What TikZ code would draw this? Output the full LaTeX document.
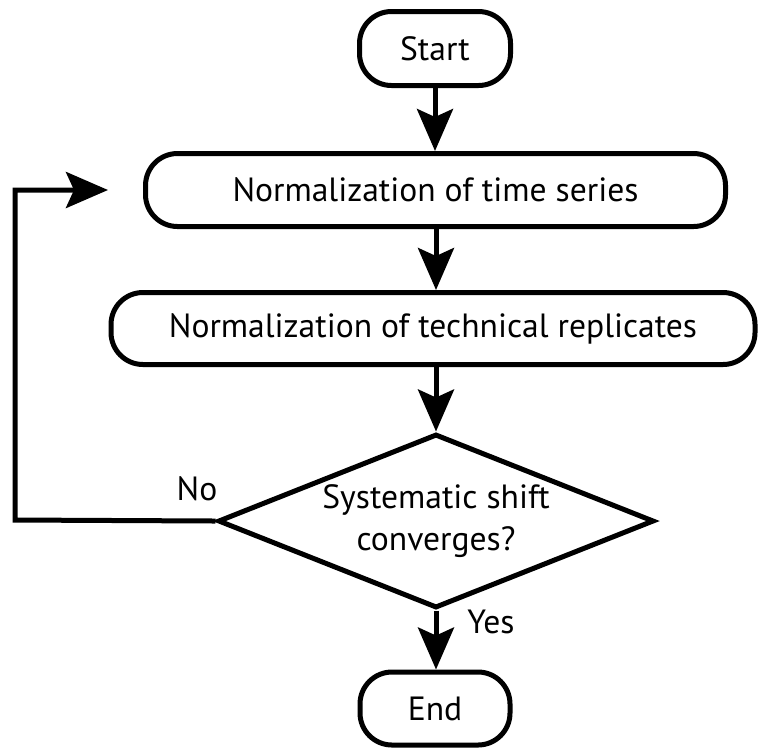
\documentclass[tikz,border=0pt]{standalone}
\usepackage{fontspec}
\setmainfont{PT Sans}
\usetikzlibrary{arrows.meta,shapes.geometric}

% size the text so the box label "Normalization of time series" is 203pt wide
\newlength\reflen
\AtBeginDocument{%
  \settowidth\reflen{\fontsize{10pt}{12pt}\selectfont Normalization of time series}%
  \pgfmathsetmacro\txtsize{10*203/\reflen}%
  \xdef\txtsize{\txtsize}%
}
\newcommand\lbl{\fontsize{\txtsize pt}{21pt}\selectfont}

\begin{document}
\begin{tikzpicture}[
    x=0.5pt, y=-0.5pt,
    line width=2.5pt,
    line join=miter,
    terminal/.style={draw, rounded corners=16pt, inner sep=0pt, align=center, font=\lbl},
    process/.style={draw, rounded corners=16pt, inner sep=0pt, align=center, font=\lbl},
    decision/.style={draw, diamond, shape aspect=2.5, inner sep=0pt, align=center, font=\lbl},
    flow/.style={-{Stealth[length=21pt, width=18pt, inset=4pt]}},
    tag/.style={inner sep=0pt, font=\lbl}
  ]
  \useasboundingbox (0,0) rectangle (758,751);

  \node[terminal, minimum width=75.5pt, minimum height=37pt] (start) at (435,48.5) {Start};
  \node[process, minimum width=290pt, minimum height=36.5pt] (ts) at (435.5,190) {Normalization of time series};
  \node[process, minimum width=322pt, minimum height=36pt] (tr) at (433,328.5) {Normalization of technical replicates};
  \node[decision, minimum width=218pt, minimum height=87pt] (dec) at (436,521) {Systematic shift\\converges?};
  \node[terminal, minimum width=75pt, minimum height=36.5pt] (end) at (435,708.5) {End};

  \node[tag] (no) at (197,489) {No};
  \node[tag] (yes) at (491,622) {Yes};

  \coordinate (rail) at (15,520);
  \coordinate (back) at (108,190);

  \draw[flow] (start) -- (start |- ts.north);
  \draw[flow] (ts.south -| dec.north) -- (dec.north |- tr.north);
  \draw[flow] (tr.south -| dec.north) -- (dec.north);
  \draw[flow] (dec.south) -- (dec.south |- end.north);
  \draw[flow] (dec.west) -- (rail) |- (back);
\end{tikzpicture}
\end{document}
